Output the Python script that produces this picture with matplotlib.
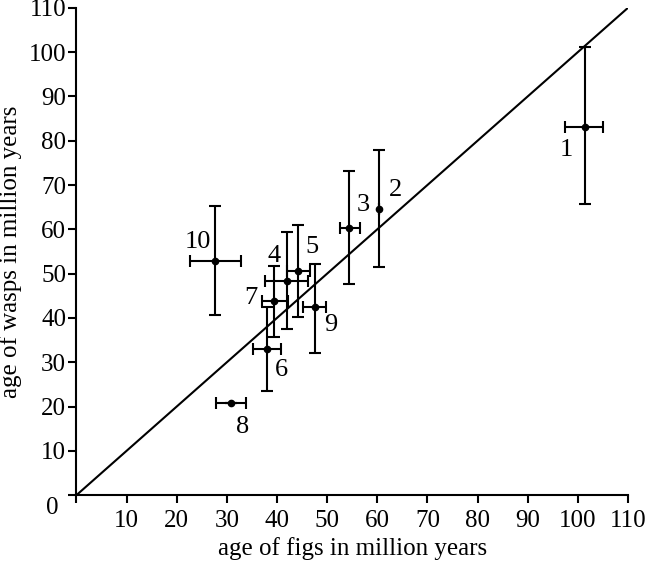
import matplotlib
matplotlib.use("Agg")
import matplotlib.pyplot as plt

# ---------------------------------
# Data
# ---------------------------------
labels = ["1", "2", "3", "4", "5", "6", "7", "8", "9", "10"]
fig_age = [101.5, 60.4, 54.4, 42.0, 44.1, 38.1, 39.5, 30.8, 47.6, 27.6]
wasp_age = [83.1, 64.7, 60.3, 48.4, 50.6, 32.9, 43.9, 20.8, 42.5, 52.9]
fig_lo = [97.5, 60.4, 52.5, 37.6, 42.0, 35.2, 37.1, 27.8, 45.2, 22.6]
fig_hi = [105.1, 60.4, 56.6, 46.2, 46.6, 40.8, 42.2, 33.9, 49.8, 32.8]
wasp_lo = [65.7, 51.4, 47.6, 37.5, 40.2, 23.5, 35.7, 20.8, 32.1, 40.6]
wasp_hi = [101.1, 77.9, 73.1, 59.4, 60.9, 42.5, 51.7, 20.8, 52.1, 65.2]
label_x = [97.7, 63.6, 57.2, 39.4, 47.0, 40.8, 34.8, 33.2, 50.8, 24.3]
label_y = [77.9, 68.8, 65.5, 54.0, 56.0, 28.2, 44.5, 15.4, 38.4, 57.1]
ticks = list(range(10, 111, 10))

plt.rcParams['font.family'] = ['Liberation Serif', 'DejaVu Serif']
plt.rcParams['font.size'] = 18

fig = plt.figure(figsize=(6.48, 5.62), dpi=100)
ax = fig.add_axes([0.118, 0.119, 0.851, 0.867])

# 1:1 line
ax.plot([0, 110], [0, 110], color="black", lw=1.5)

xerr = [[f - lo for f, lo in zip(fig_age, fig_lo)],
        [hi - f for f, hi in zip(fig_age, fig_hi)]]
yerr = [[w - lo for w, lo in zip(wasp_age, wasp_lo)],
        [hi - w for w, hi in zip(wasp_age, wasp_hi)]]
ax.errorbar(fig_age, wasp_age, xerr=xerr, yerr=yerr, fmt="o", color="black",
            ms=4.5, elinewidth=1.5, capsize=4, capthick=1.5)

for lab, lx, ly in zip(labels, label_x, label_y):
    ax.text(lx, ly, lab, ha="center", va="center", fontsize=19)

ax.set_xlim(0, 110)
ax.set_ylim(0, 110)
ax.set_xticks([0] + ticks)
ax.set_xticklabels([""] + [str(t) for t in ticks])
ax.set_yticks([0] + ticks)
ax.set_yticklabels([""] + [str(t) for t in ticks])
ax.text(-3.5, -3.0, "0", ha="right", va="center", fontsize=18)

for s in ["top", "right"]:
    ax.spines[s].set_visible(False)
for s in ["left", "bottom"]:
    ax.spines[s].set_linewidth(1.5)
ax.tick_params(direction="out", length=5.5, width=1.5, labelsize=18, pad=2)
ax.tick_params(axis="x", pad=5)

ax.set_xlabel("age of figs in million years", fontsize=18, labelpad=4)
ax.set_ylabel("age of wasps in million years", fontsize=18, labelpad=5)

fig.savefig("out.png", dpi=100)
